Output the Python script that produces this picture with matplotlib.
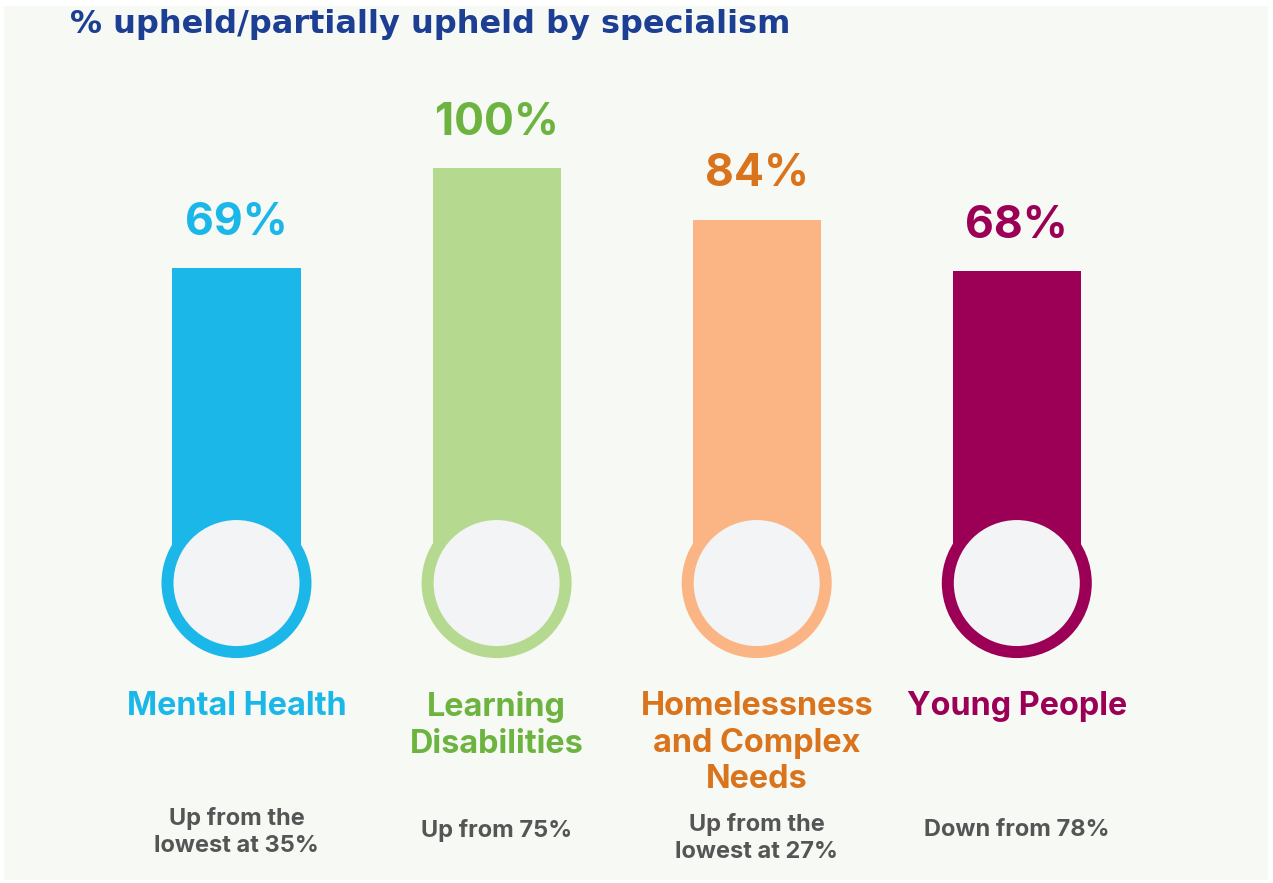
import matplotlib
matplotlib.use("Agg")
import matplotlib.pyplot as plt
from matplotlib.patches import Rectangle
from matplotlib.transforms import blended_transform_factory

categories = ["Mental Health", "Learning\nDisabilities", "Homelessness\nand Complex\nNeeds", "Young People"]
values = [69, 100, 84, 68]
notes = ["Up from the\nlowest at 35%", "Up from 75%", "Up from the\nlowest at 27%", "Down from 78%"]
bar_colors = ["#1bb7e8", "#b5d98f", "#fbb584", "#9b0056"]
text_colors = ["#1bb7e8", "#6db33f", "#d9731c", "#9b0056"]

W, H = 1273, 883
fig = plt.figure(figsize=(W / 100, H / 100), dpi=100, facecolor="white")
fig.patches.append(Rectangle((4 / W, 3 / H), 1 - 9 / W, 1 - 9 / H, transform=fig.transFigure,
                             facecolor="#f7f9f4", edgecolor="none", zorder=-10))

ax = fig.add_axes([0, 0, 1, 1])
ax.set_facecolor("none")
# pixel mapping: 0% at y=491 px, 3.23 px per %; bars 260 px apart
ppu = 3.23
y0 = 491
step, x0 = 260.1, 236.5
ax.set_ylim((y0 - H) / ppu, y0 / ppu)
ax.set_xlim(-x0 / step, (W - x0) / step)
ax.axis("off")

x = list(range(len(values)))
bulb = -28.5
bw = 128 / step
ax.bar(x, [v - bulb for v in values], bottom=bulb, width=bw, color=bar_colors, zorder=2)
ax.scatter(x, [bulb] * len(x), s=(138 * 0.72) ** 2, facecolor="#f3f4f6", edgecolor=bar_colors,
           linewidth=12 * 0.72, zorder=3)

for xi, v, c in zip(x, values, text_colors):
    ax.annotate(f"{v}%", (xi, v), xytext=(0, 24), textcoords="offset points", ha="center",
                va="baseline", fontsize=32, fontweight="bold", color=c, family="Inter")

tr = blended_transform_factory(ax.transData, fig.transFigure)
for xi, cat, c in zip(x, categories, text_colors):
    ax.text(xi, 1 - 691 / H, cat, transform=tr, ha="center", va="top", fontsize=23.3,
            fontweight="bold", color=c, family="Inter", linespacing=1.23)

note_y = [832, 830, 838, 830]
for xi, n, ny in zip(x, notes, note_y):
    ax.text(xi, 1 - ny / H, n, transform=tr, ha="center", va="center", fontsize=17,
            fontweight="bold", color="#555555", family="Inter", linespacing=1.3)

fig.text(70 / W, 1 - 25 / H, "% upheld/partially upheld by specialism", ha="left", va="center",
         fontsize=23, fontweight="bold", color="#1c3f94", family="DejaVu Sans")

fig.savefig("out.png", dpi=100, facecolor="white")
